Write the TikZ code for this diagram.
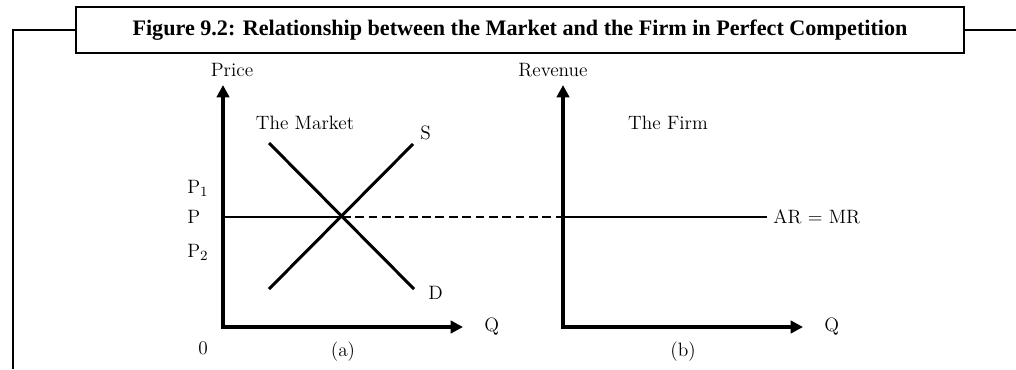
\documentclass[tikz,border=0pt]{standalone}
\usepackage{fontspec}
\newfontfamily\titlefont{Liberation Serif}
\usetikzlibrary{arrows.meta,positioning}
\tikzset{
  axis/.style={line width=1.8pt, line join=miter,
               {Triangle[length=7pt,width=7pt]}-{Triangle[length=7pt,width=7pt]}},
  curve/.style={line width=1.7pt},
  pline/.style={line width=1.3pt},
  pdash/.style={pline, dash pattern=on 5pt off 2.6pt},
  frame/.style={line width=1.5pt},
  titlebox/.style={draw, line width=1.6pt, minimum width=17.76cm, minimum height=0.92cm,
                   inner sep=0pt, font=\titlefont\bfseries\fontsize{12.6}{14}\selectfont},
  lbl/.style={font=\fontsize{11}{13}\selectfont, inner sep=0pt}
}
\begin{document}
\begin{tikzpicture}[x=0.02cm, y=-0.02cm]
 \useasboundingbox (0,0) rectangle (1016,369);
 % title and frame
 \node[titlebox] (title) at (520,30) {Figure 9.2: Relationship between the Market and the Firm in Perfect Competition};
 \coordinate (fl) at (13,369); \coordinate (fr) at (1016,30);
 \draw[frame] (fl) |- (title.west); \draw[frame] (title.east) -- (fr);
 % (a) the market
 \coordinate (oa) at (223,327); \coordinate (pa) at (223,85); \coordinate (qa) at (463,327);
 \draw[axis] (pa) -- (oa) -- (qa);
 \coordinate (e) at (342,217);
 \coordinate (d1) at (269,143); \coordinate (d2) at (414,289);
 \coordinate (s1) at (269,289); \coordinate (s2) at (413,144);
 \draw[curve] (d1) -- (d2); \draw[curve] (s1) -- (s2);
 \node[lbl] (price) at (232,70) {Price};
 \node[lbl] (mkt) at (305,123) {The Market};
 \node[lbl, above right=2pt and 4pt of s2] (s) {S};
 \node[lbl, below right=-2pt and 8pt of d2] (d) {D};
 \node[lbl, anchor=west] (p1) at (187,188) {$\mathrm{P}_1$};
 \node[lbl, anchor=west] (p) at (187,217) {P};
 \node[lbl, anchor=west] (p2) at (187,252) {$\mathrm{P}_2$};
 \node[lbl] (zero) at (203,348) {0};
 \node[lbl] (a) at (343,352) {(a)};
 \node[lbl, right=12pt of qa] (qla) {Q};
 % (b) the firm
 \coordinate (ob) at (563,327); \coordinate (rb) at (563,85); \coordinate (qb) at (803,327);
 \draw[axis] (rb) -- (ob) -- (qb);
 \coordinate (pf) at (563,217); \coordinate (pe) at (767,217);
 \node[lbl] (rev) at (553,70) {Revenue};
 \node[lbl] (firm) at (668,123) {The Firm};
 \node[lbl, right=12pt of qb] (qlb) {Q};
 \node[lbl] (b) at (683,352) {(b)};
 \node[lbl, anchor=west] (armr) at (773,217) {AR = MR};
 % price line
 \draw[pline] (p.east -| oa) -- (e);
 \draw[pdash] (e) -- (pf);
 \draw[pline] (pf) -- (pe);
\end{tikzpicture}
\end{document}
